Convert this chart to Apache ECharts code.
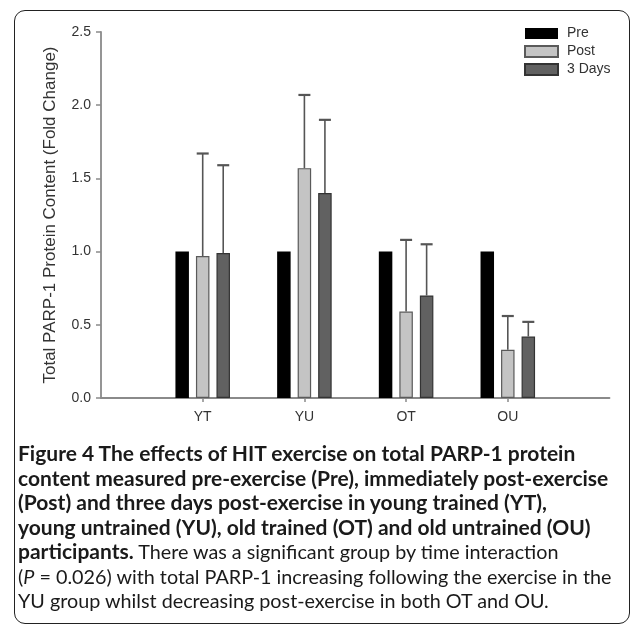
<!DOCTYPE html>
<html><head><meta charset="utf-8">
<script src="https://cdn.jsdelivr.net/npm/echarts@6/dist/echarts.min.js"></script>
<style>
html,body{margin:0;padding:0;background:#fff;width:633px;height:630px;overflow:hidden;}
#frame{position:absolute;left:14px;top:10px;width:616px;height:614px;border:1.5px solid #222;border-radius:11px;box-sizing:border-box;}
#chart{position:absolute;left:0;top:0;width:633px;height:630px;}
#caption{position:absolute;left:18px;top:441px;width:615px;font-family:Lato,'Open Sans',sans-serif;color:#1a1a1a;line-height:24.5px;white-space:nowrap;font-size:18px;}
#caption .b{font-weight:700;}
#caption div{display:block;height:24.5px;}
</style></head><body>
<div id="frame"></div>
<div id="chart"></div>
<div id="caption"></div>
<script>
// ---- data ----
const categories = ['YT', 'YU', 'OT', 'OU'];
const seriesNames = ['Pre', 'Post', '3 Days'];
const preValues = [1.00, 1.00, 1.00, 1.00];
const postValues = [0.97, 1.57, 0.59, 0.33];
const threeDayValues = [0.99, 1.40, 0.70, 0.42];
const postUpper = [1.67, 2.07, 1.08, 0.56];
const threeDayUpper = [1.59, 1.90, 1.05, 0.52];
const yTickValues = [0, 0.5, 1.0, 1.5, 2.0, 2.5];
const yAxisTitle = 'Total PARP-1 Protein Content (Fold Change)';
const captionLines = [
  [['b', 'Figure 4 The effects of HIT exercise on total PARP-1 protein']],
  [['b', 'content measured pre-exercise (Pre), immediately post-exercise']],
  [['b', '(Post) and three days post-exercise in young trained (YT),']],
  [['b', 'young untrained (YU), old trained (OT) and old untrained (OU)']],
  [['b', 'participants.'], ['r', ' There was a significant group by time interaction']],
  [['r', '('], ['i', 'P'], ['r', ' = 0.026) with total PARP-1 increasing following the exercise in the']],
  [['r', 'YU group whilst decreasing post-exercise in both OT and OU.']]
];

// ---- caption ----
const cap = document.getElementById('caption');
const lineSpans = [];
const regularSpans = [];
captionLines.forEach(line => {
  const div = document.createElement('div');
  const inner = document.createElement('span');
  line.forEach(([kind, txt]) => {
    const s = document.createElement('span');
    if (kind === 'b') s.className = 'b';
    else regularSpans.push(s);
    if (kind === 'i') s.style.fontStyle = 'italic';
    s.textContent = txt;
    inner.appendChild(s);
  });
  div.appendChild(inner);
  cap.appendChild(div);
  lineSpans.push(inner);
});
(function fit() {
  const w = lineSpans[1].getBoundingClientRect().width;
  const fs = Math.max(15, Math.min(21, 18 * 596 / w));
  cap.style.fontSize = fs.toFixed(2) + 'px';
  const w6 = lineSpans[5].getBoundingClientRect().width;
  const fr = Math.max(14, Math.min(21, fs * 594 / w6));
  regularSpans.forEach(s => { s.style.fontSize = fr.toFixed(2) + 'px'; });
})();

// ---- chart ----
const FONT = "'Liberation Sans', Arial, sans-serif";
const BAR_W = 13.5;
const BAR_GAP = 0.52;
const axisCats = [''].concat(categories, ['']);
const pad = arr => [null].concat(arr, [null]);
const colors = ['#000000', '#c4c4c4', '#616161'];
const borders = ['#000000', '#5a5a5a', '#333333'];

const chart = echarts.init(document.getElementById('chart'), null, {renderer: 'canvas'});

function errSeries(values, upper, k) {
  const off = (BAR_W * (1 + BAR_GAP)) * (k - 1);
  return {
    type: 'custom',
    z: 5,
    silent: true,
    data: categories.map((c, i) => [i + 1, values[i], upper[i]]),
    encode: {x: 0, y: [1, 2]},
    renderItem: (params, api) => {
      const ci = api.value(0);
      const p0 = api.coord([ci, api.value(1)]);
      const p1 = api.coord([ci, api.value(2)]);
      const x = p0[0] + off;
      return {
        type: 'group',
        children: [
          {type: 'line', shape: {x1: x, y1: p0[1], x2: x, y2: p1[1]}, style: {stroke: '#555', lineWidth: 1.6}},
          {type: 'line', shape: {x1: x - 6, y1: p1[1], x2: x + 6, y2: p1[1]}, style: {stroke: '#555', lineWidth: 2.2}}
        ]
      };
    }
  };
}

const valueSets = [preValues, postValues, threeDayValues];
const barSeries = seriesNames.map((name, k) => ({
  name: name,
  type: 'bar',
  data: pad(valueSets[k]),
  barWidth: BAR_W,
  barGap: (BAR_GAP * 100) + '%',
  itemStyle: {color: colors[k], borderColor: borders[k], borderWidth: k === 0 ? 0 : 1.2},
  emphasis: {disabled: true}
}));

chart.setOption({
  animation: false,
  backgroundColor: 'transparent',
  grid: {left: 101, right: 23.5, top: 32, bottom: 232, containLabel: false},
  legend: {
    orient: 'vertical', left: 524, top: 26, padding: 0,
    itemWidth: 33, itemHeight: 11, itemGap: 3,
    icon: 'rect',
    data: seriesNames,
    textStyle: {fontFamily: FONT, fontSize: 14, color: '#333', lineHeight: 15, padding: [0, 0, 0, 4]}
  },
  xAxis: {
    type: 'category',
    data: axisCats,
    boundaryGap: false,
    axisLine: {show: true, lineStyle: {color: '#8a8a8a', width: 1.8}},
    axisTick: {show: true, length: 4, lineStyle: {color: '#8a8a8a', width: 1.5},
      interval: (i, v) => v !== ''},
    axisLabel: {interval: 0, margin: 12, fontFamily: FONT, fontSize: 14, color: '#333'},
    splitLine: {show: false}
  },
  yAxis: {
    type: 'value',
    min: yTickValues[0], max: yTickValues[yTickValues.length - 1],
    interval: yTickValues[1] - yTickValues[0],
    name: yAxisTitle,
    nameLocation: 'middle',
    nameGap: 42,
    nameTextStyle: {fontFamily: FONT, fontSize: 17, color: '#333'},
    axisLine: {show: true, lineStyle: {color: '#8a8a8a', width: 1.8}},
    axisTick: {show: true, length: 5, lineStyle: {color: '#8a8a8a', width: 1.5}},
    axisLabel: {margin: 10, fontFamily: FONT, fontSize: 14, color: '#333',
      formatter: v => v.toFixed(1)},
    splitLine: {show: false}
  },
  series: barSeries.concat([
    errSeries(postValues, postUpper, 1),
    errSeries(threeDayValues, threeDayUpper, 2)
  ])
});
</script>
</body></html>
